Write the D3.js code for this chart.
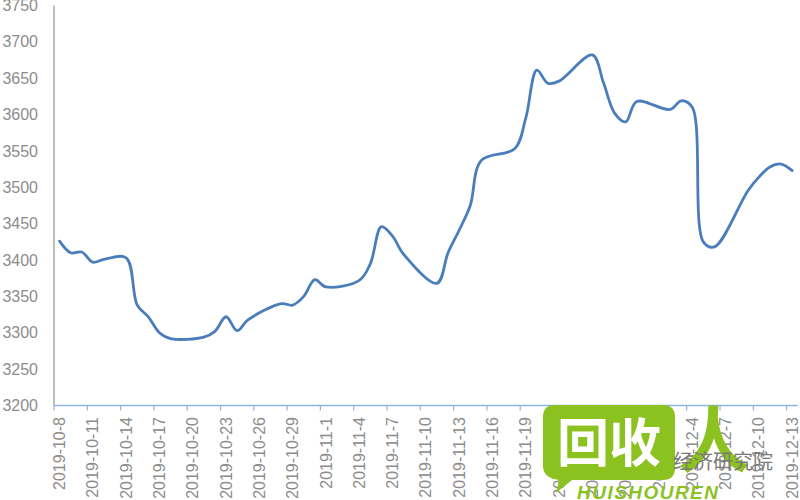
<!DOCTYPE html>
<html>
<head>
<meta charset="utf-8">
<script src="https://cdn.jsdelivr.net/npm/d3@7"></script>
<style>
  html, body { margin: 0; padding: 0; background: #fff; }
  svg { display: block; }
</style>
</head>
<body>
<svg id="chart" width="800" height="500"></svg>
<script>
// ---- data ----
const dates = [
  "2019-10-08","2019-10-09","2019-10-10","2019-10-11","2019-10-12",
  "2019-10-14","2019-10-15","2019-10-16","2019-10-17","2019-10-18",
  "2019-10-21","2019-10-22","2019-10-23","2019-10-24","2019-10-25",
  "2019-10-28","2019-10-29","2019-10-30","2019-10-31","2019-11-01",
  "2019-11-04","2019-11-05","2019-11-06","2019-11-07","2019-11-08",
  "2019-11-11","2019-11-12","2019-11-13","2019-11-14","2019-11-15",
  "2019-11-18","2019-11-19","2019-11-20","2019-11-21","2019-11-22",
  "2019-11-25","2019-11-26","2019-11-27","2019-11-28","2019-11-29",
  "2019-12-02","2019-12-03","2019-12-04","2019-12-05","2019-12-06",
  "2019-12-09","2019-12-10","2019-12-11","2019-12-12","2019-12-13"
];
const values = [
  3426, 3410, 3411, 3397, 3401,
  3403, 3338, 3322, 3300, 3292,
  3294, 3302, 3322, 3303, 3318,
  3340, 3338, 3350, 3373, 3363,
  3372, 3395, 3446, 3433, 3408,
  3368, 3410, 3441, 3475, 3537,
  3553, 3595, 3661, 3643, 3646,
  3682, 3644, 3602, 3590, 3618,
  3607, 3619, 3610, 3425, 3418,
  3495, 3514, 3528, 3532, 3523
];
const tickLabels = [
  "2019-10-8","2019-10-11","2019-10-14","2019-10-17","2019-10-20","2019-10-23",
  "2019-10-26","2019-10-29","2019-11-1","2019-11-4","2019-11-7","2019-11-10",
  "2019-11-13","2019-11-16","2019-11-19","2019-11-22","2019-11-25","2019-11-28",
  "2019-12-1","2019-12-4","2019-12-7","2019-12-10","2019-12-13"
];
const yTicks = [3200,3250,3300,3350,3400,3450,3500,3550,3600,3650,3700,3750];

// ---- layout ----
const svg = d3.select("#chart");
const mLeft = 54, mRight = 797.7, mTop = 5.5, mBottom = 405.5;
const parse = d3.timeParse("%Y-%m-%d");
const fmtKey = d3.timeFormat("%Y-%m-%d");
const firstDay = parse(dates[0]), lastDay = parse(dates[dates.length-1]);
const allDays = d3.timeDay.range(firstDay, d3.timeDay.offset(lastDay, 1)).map(fmtKey);

const x = d3.scaleBand().domain(allDays).range([mLeft, mRight]).paddingInner(0).paddingOuter(0);
const y = d3.scaleLinear().domain([3200, 3750]).range([mBottom, mTop]);

const labelKey = s => fmtKey(parse(s.replace(/-(\d)(?=-|$)/g, "-0$1")));

// y axis line
svg.append("line")
  .attr("x1", mLeft).attr("x2", mLeft).attr("y1", mTop).attr("y2", mBottom)
  .attr("stroke", "#a6a6a6").attr("stroke-width", 1.5);

// y tick labels
svg.append("g").selectAll("text").data(yTicks).join("text")
  .attr("x", 38).attr("y", d => y(d)).attr("dy", "0.35em")
  .attr("text-anchor", "end")
  .attr("font-family", "Liberation Sans, Arial, sans-serif")
  .attr("font-size", 16).attr("fill", "#8c8c8c")
  .text(d => d);

// x axis line
svg.append("line")
  .attr("x1", mLeft).attr("x2", mRight).attr("y1", mBottom).attr("y2", mBottom)
  .attr("stroke", "#8eb4e3").attr("stroke-width", 1.5);

// x ticks + labels
const xg = svg.append("g");
tickLabels.forEach(lbl => {
  const key = labelKey(lbl);
  const x0 = x(key);
  xg.append("line").attr("x1", x0).attr("x2", x0).attr("y1", mBottom).attr("y2", mBottom + 5)
    .attr("stroke", "#8eb4e3").attr("stroke-width", 1.2);
  const cx = x0 + x.bandwidth() / 2;
  xg.append("text")
    .attr("transform", `translate(${cx},${417}) rotate(-90)`)
    .attr("dy", "0.35em")
    .attr("text-anchor", "end")
    .attr("font-family", "Liberation Sans, Arial, sans-serif")
    .attr("font-size", 16).attr("fill", "#8c8c8c")
    .text(lbl);
});

// line
const pts = dates.map((d, i) => ({ x: x(d) + x.bandwidth() / 2, y: y(values[i]) }));
const line = d3.line().x(d => d.x).y(d => d.y).curve(d3.curveCatmullRom.alpha(0.5));
svg.append("path").datum(pts)
  .attr("d", line)
  .attr("fill", "none")
  .attr("stroke", "#4a7ebb")
  .attr("stroke-width", 2.8)
  .attr("stroke-linejoin", "round")
  .attr("stroke-linecap", "round");

// ---- watermark ----
const wm = svg.append("g");
const green = "#8cc21f";
wm.append("path")
  .attr("d", "M555,405 H663 Q675,405 675,417 V468 Q675,480 663,480 H572 L556,493 L559,480 Q543,478 543,466 V417 Q543,405 555,405 Z")
  .attr("fill", green);
wm.append("text")
  .attr("x", 609).attr("y", 462)
  .attr("text-anchor", "middle")
  .attr("font-family", "Noto Sans CJK SC, sans-serif")
  .attr("font-weight", "bold")
  .attr("font-size", 52).attr("fill", "#fff")
  .text("回收");
wm.append("text")
  .attr("x", 714).attr("y", 466)
  .attr("text-anchor", "middle")
  .attr("font-family", "Noto Sans CJK SC, sans-serif")
  .attr("font-weight", "bold")
  .attr("font-size", 72).attr("fill", green)
  .text("人");
wm.append("text")
  .attr("x", 673).attr("y", 469)
  .attr("font-family", "Noto Sans CJK SC, sans-serif")
  .attr("font-size", 20).attr("fill", "#7a7a7a")
  .text("经济研究院");
wm.append("text")
  .attr("x", 577).attr("y", 499)
  .attr("font-family", "Liberation Sans, Arial, sans-serif")
  .attr("font-weight", "bold").attr("font-style", "italic")
  .attr("font-size", 19).attr("fill", green)
  .attr("textLength", 141)
  .text("HUISHOUREN");
</script>
</body>
</html>
